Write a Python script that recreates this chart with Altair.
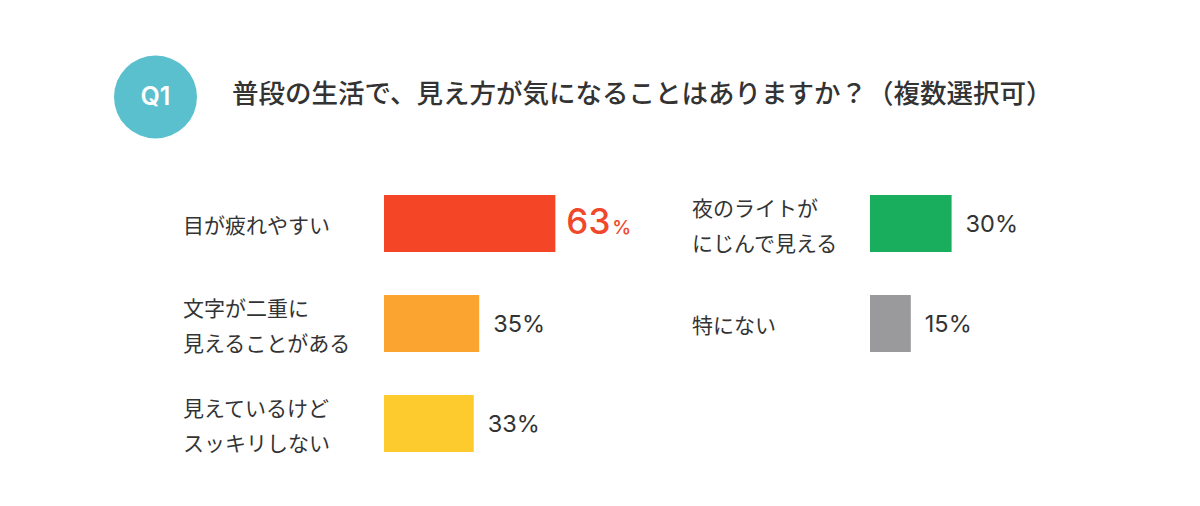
import altair as alt
import pandas as pd

# ---- data ----
badge_text = "Q1"
title_text = "普段の生活で、見え方が気になることはありますか？（複数選択可）"

left_categories = ["目が疲れやすい", "文字が二重に\n見えることがある", "見えているけど\nスッキリしない"]
left_values = [63, 35, 33]
left_colors = ["#F44626", "#FBA530", "#FECB2E"]
left_highlight = [True, False, False]

right_categories = ["夜のライトが\nにじんで見える", "特にない"]
right_values = [30, 15]
right_colors = ["#18AE5D", "#9A999B"]
right_highlight = [False, False]

TEXT = "#333333"
RED_TEXT = "#F0482A"
JP_FONT = "Noto Sans CJK JP"
NUM_FONT = "Inter, Noto Sans CJK JP"

header_df = pd.DataFrame({"badge": [badge_text], "title": [title_text]})


def block(categories, values, colors, highlight, x_range, y_range, label_x):
    df = pd.DataFrame({"category": categories, "value": values, "hl": highlight})
    xs = alt.Scale(domain=[0, 100], range=x_range)
    ys = alt.Scale(domain=categories, range=y_range, paddingInner=0.43, paddingOuter=0.215)
    X = alt.X("value:Q", scale=xs, axis=None)
    Y = alt.Y("category:N", scale=ys, axis=None, sort=categories)
    base = alt.Chart(df)
    bars = base.mark_bar().encode(
        x=X, y=Y,
        color=alt.Color("category:N", scale=alt.Scale(domain=categories, range=colors), legend=None),
    )
    label_style = dict(align="left", baseline="middle", lineBreak="\n", lineHeight=35,
                       fontSize=21, font=JP_FONT, color=TEXT)
    labels1 = base.transform_filter("indexof(datum.category, '\\n') < 0").mark_text(
        dy=3, **label_style
    ).encode(x=alt.value(label_x), y=Y, text="category:N")
    labels2 = base.transform_filter("indexof(datum.category, '\\n') >= 0").mark_text(
        dy=-14, **label_style
    ).encode(x=alt.value(label_x), y=Y, text="category:N")
    vals = base.transform_filter("!datum.hl").transform_calculate(
        t="datum.value + '%'"
    ).mark_text(
        align="left", baseline="alphabetic", dx=14, dy=8.5,
        fontSize=23.5, font=NUM_FONT, color=TEXT,
    ).encode(x=X, y=Y, text="t:N")
    big = base.transform_filter("datum.hl").mark_text(
        align="left", baseline="alphabetic", dx=11, dy=10.5,
        fontSize=35, fontWeight=500, font=NUM_FONT, color=RED_TEXT,
    ).encode(x=X, y=Y, text="value:Q")
    pct = base.transform_filter("datum.hl").transform_calculate(t="'%'").mark_text(
        align="left", baseline="alphabetic", dx=57, dy=10.5,
        fontSize=19, fontWeight=500, font=NUM_FONT, color=RED_TEXT,
    ).encode(x=X, y=Y, text="t:N")
    return alt.layer(bars, labels1, labels2, vals, big, pct)


left = block(left_categories, left_values, left_colors, left_highlight,
             [376, 648], [165.5, 465.5], 175)
right = block(right_categories, right_values, right_colors, right_highlight,
              [862, 1134], [165.5, 365.5], 684)

hbase = alt.Chart(header_df)
badge = hbase.mark_circle(size=6889, opacity=1, color="#5BC0CE").encode(
    x=alt.value(147.5), y=alt.value(89)
)
badge_txt = hbase.mark_text(
    align="center", baseline="middle", fontSize=25, fontWeight=600,
    font=NUM_FONT, color="white",
).encode(x=alt.value(147.5), y=alt.value(89), text="badge:N")
title = hbase.mark_text(
    align="left", baseline="middle", fontSize=26.5, fontWeight=500,
    font=JP_FONT, color=TEXT,
).encode(x=alt.value(224), y=alt.value(87), text="title:N")

chart = alt.layer(badge, badge_txt, title, left, right).resolve_scale(
    x="independent", y="independent", color="independent"
).properties(
    width=1180, height=486,
    autosize=alt.AutoSizeParams(type="fit", contains="padding"),
    padding=0,
).configure_view(strokeWidth=0)

chart.save("out.html", embed_options={"renderer": "svg", "actions": False})
